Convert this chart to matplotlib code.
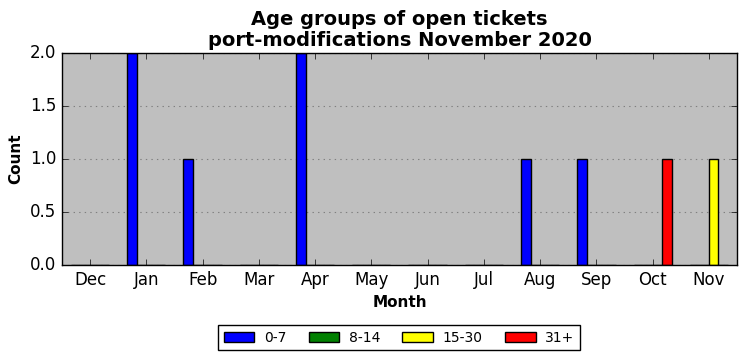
import numpy as np
import matplotlib
matplotlib.use("Agg")
import matplotlib.pyplot as plt

months = ["Dec", "Jan", "Feb", "Mar", "Apr", "May", "Jun", "Jul", "Aug", "Sep", "Oct", "Nov"]
age_0_7 = [0, 2, 1, 0, 2, 0, 0, 0, 1, 1, 0, 0]
age_8_14 = [0, 0, 0, 0, 0, 0, 0, 0, 0, 0, 0, 0]
age_15_30 = [0, 0, 0, 0, 0, 0, 0, 0, 0, 0, 0, 1]
age_31 = [0, 0, 0, 0, 0, 0, 0, 0, 0, 0, 1, 0]

plt.style.use("classic")
plt.rcParams['font.family'] = ['DejaVu Sans']

fig = plt.figure(figsize=(7.46, 3.61), dpi=100, facecolor="white")
ax = fig.add_axes([0.083, 0.266, 0.905, 0.587])
ax.set_facecolor("#bfbfbf")

x = np.arange(len(months))
w = 0.17
series = [(age_0_7, "blue", "0-7"), (age_8_14, "green", "8-14"),
          (age_15_30, "yellow", "15-30"), (age_31, "red", "31+")]
for i, (vals, col, lab) in enumerate(series):
    ax.bar(x + (i - 1.5) * w, vals, w, color=col, edgecolor="black",
           linewidth=1, label=lab, align="center")

ax.set_xlim(-0.5, 11.5)
ax.set_ylim(0, 2)
ax.set_xticks(x)
ax.set_xticklabels(months)
ax.set_yticks([0, 0.5, 1.0, 1.5, 2.0])
ax.tick_params(labelsize=12)
ax.yaxis.grid(True, linestyle=":", color="gray", linewidth=0.8)
ax.xaxis.grid(False)
ax.set_axisbelow(True)

ax.set_title("Age groups of open tickets\nport-modifications November 2020",
             fontsize=14, fontweight="bold", linespacing=1.12)
ax.set_ylabel("Count", fontsize=11, fontweight="bold")
ax.set_xlabel("Month", fontsize=11, fontweight="bold")

fig.legend(loc="center", bbox_to_anchor=(0.535, 0.064), ncol=4, fontsize=10,
           fancybox=False, framealpha=1, edgecolor="black", borderpad=0.4,
           handlelength=2.2, handletextpad=0.7, columnspacing=1.6)

plt.savefig("out.png", dpi=100, facecolor="white")
